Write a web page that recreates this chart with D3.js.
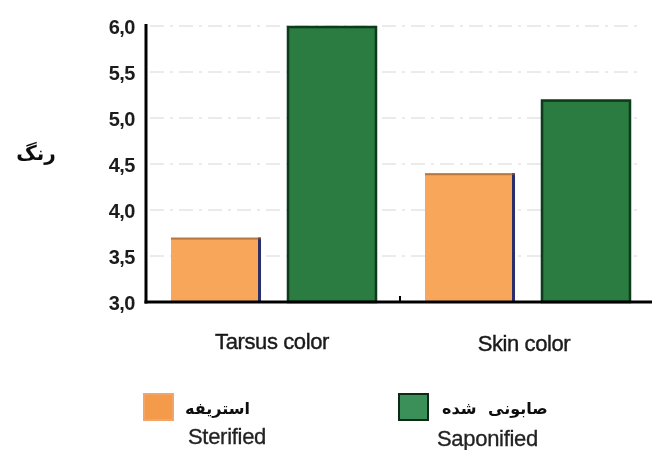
<!DOCTYPE html>
<html>
<head>
<meta charset="utf-8">
<script src="https://cdn.jsdelivr.net/npm/d3@7/dist/d3.min.js"></script>
<style>
  html, body { margin: 0; padding: 0; background: #fff; }
  svg { display: block; }
  .tick-label { font-family: "Liberation Sans", Arial, sans-serif; font-weight: bold; font-size: 20px; fill: #1a1a1a; letter-spacing: -0.5px; }
  .cat-label { font-family: "Liberation Sans", Arial, sans-serif; font-size: 22px; fill: #1a1a1a; stroke: #1a1a1a; stroke-width: 0.4px; letter-spacing: -0.4px; }
  .fa { font-family: "DejaVu Sans", "Noto Sans", sans-serif; font-weight: bold; font-size: 16px; fill: #111; }
  .fa-title { font-family: "DejaVu Sans", "Noto Sans", sans-serif; font-weight: bold; font-size: 20px; fill: #111; }
  .en { font-family: "Liberation Sans", Arial, sans-serif; font-size: 22px; fill: #222; stroke: #222; stroke-width: 0.3px; letter-spacing: -0.3px; }
</style>
</head>
<body>
<svg id="chart" width="652" height="450"></svg>
<script>
// Colour scores of tarsus / skin for two fat treatments
const categories = ["Tarsus color", "Skin color"];
const seriesNames = ["Sterified", "Saponified"];
const seriesNamesFa = ["استریفه", "صابونی شده"];
const sterified = [3.7, 4.4];
const saponified = [6.0, 5.2];
const yTicks = [3.0, 3.5, 4.0, 4.5, 5.0, 5.5, 6.0];
const yLabel = "رنگ";

const fills = ["#F8A65A", "#2B7B3F"];
const edges = ["#2c2f6a", "#0c3b1a"];

const svg = d3.select("#chart");
const defs = svg.append("defs");
defs.append("filter").attr("id", "soft")
  .append("feGaussianBlur").attr("stdDeviation", 0.5);
const g = svg.append("g").attr("filter", "url(#soft)");

const plotLeft = 146, plotRight = 652, plotTop = 26, plotBottom = 302;

const y = d3.scaleLinear().domain([3.0, 6.0]).range([plotBottom, plotTop]);
const x0 = d3.scaleBand().domain(categories).range([plotLeft, plotLeft + 508]).paddingInner(0).paddingOuter(0);
const x1 = d3.scaleBand().domain(seriesNames).range([25, 231]).paddingInner(0.224).paddingOuter(0);

// horizontal dashed grid
g.append("g").selectAll("line").data(yTicks.filter(t => t > 3.0)).join("line")
  .attr("x1", plotLeft + 4).attr("x2", plotRight - 10)
  .attr("y1", d => y(d)).attr("y2", d => y(d))
  .attr("stroke", "#d6d6d6").attr("stroke-width", 1)
  .attr("stroke-dasharray", "14,6,3,6");

// bars
const rows = categories.map((c, i) => ({ cat: c, vals: [sterified[i], saponified[i]] }));
const grp = g.append("g").selectAll("g").data(rows).join("g")
  .attr("transform", d => `translate(${x0(d.cat)},0)`);

grp.selectAll("g.bar").data(d => d.vals.map((v, j) => ({ v, j }))).join("g").attr("class", "bar")
  .each(function(d) {
    const s = d3.select(this);
    const bx = x1(seriesNames[d.j]), bw = x1.bandwidth();
    const by = y(d.v), bh = plotBottom - by;
    s.append("rect").attr("x", bx).attr("y", by).attr("width", bw).attr("height", bh)
      .attr("fill", fills[d.j]);
    if (d.j === 0) {
      // dark shading along the right and top edges
      s.append("rect").attr("x", bx + bw - 3).attr("y", by).attr("width", 3).attr("height", bh)
        .attr("fill", edges[0]);
      s.append("rect").attr("x", bx).attr("y", by).attr("width", bw).attr("height", 2)
        .attr("fill", "#8a5a30").attr("opacity", 0.6);
    } else {
      s.append("rect").attr("x", bx + 1).attr("y", by + 1).attr("width", bw - 2).attr("height", bh - 1)
        .attr("fill", "none").attr("stroke", edges[1]).attr("stroke-width", 2.5);
    }
  });

// axes
const yAxis = d3.axisLeft(y).tickValues(yTicks).tickSize(0).tickPadding(11)
  .tickFormat(d => d3.format(".1f")(d).replace(".", ","));
const ya = g.append("g").attr("transform", `translate(${plotLeft},0)`).call(yAxis);
ya.select(".domain").remove();
ya.selectAll("text").attr("class", "tick-label").attr("dy", "0.36em");

g.append("line").attr("x1", plotLeft).attr("x2", plotLeft).attr("y1", plotTop - 2).attr("y2", plotBottom + 1.5)
  .attr("stroke", "#000").attr("stroke-width", 3);
g.append("line").attr("x1", plotLeft - 1.5).attr("x2", plotRight).attr("y1", plotBottom).attr("y2", plotBottom)
  .attr("stroke", "#000").attr("stroke-width", 3);
// small tick between the two groups
g.append("line").attr("x1", x0("Skin color")).attr("x2", x0("Skin color"))
  .attr("y1", plotBottom - 6).attr("y2", plotBottom).attr("stroke", "#000").attr("stroke-width", 2);

// category labels
g.append("g").selectAll("text").data(categories).join("text")
  .attr("class", "cat-label")
  .attr("x", (d, i) => x0(d) + x1.range()[0] + (x1.range()[1] - x1.range()[0]) / 2 + (i === 0 ? -2 : -4))
  .attr("y", (d, i) => plotBottom + (i === 0 ? 47 : 49))
  .attr("text-anchor", "middle")
  .text(d => d);

// y axis title
g.append("text").attr("class", "fa-title").attr("x", 36).attr("y", 160)
  .attr("text-anchor", "middle").text(yLabel);

// legend
const legendX = [143, 398];
const leg = g.append("g").selectAll("g").data(seriesNames).join("g")
  .attr("transform", (d, i) => `translate(${legendX[i]},393)`);
leg.append("rect").attr("x", 1).attr("y", 1).attr("width", 29).attr("height", 26)
  .attr("fill", (d, i) => i === 0 ? "#F49A4C" : "#3A8F58")
  .attr("stroke", (d, i) => i === 0 ? "#f3a467" : "#0d2a16").attr("stroke-width", 2);
leg.append("text").attr("class", "fa")
  .attr("x", (d, i) => i === 0 ? 42 : 44).attr("y", 21)
  .attr("text-anchor", "start")
  .attr("word-spacing", (d, i) => i === 0 ? 0 : 6)
  .text((d, i) => seriesNamesFa[i]);
leg.append("text").attr("class", "en")
  .attr("x", (d, i) => i === 0 ? 45 : 39).attr("y", (d, i) => i === 0 ? 51 : 53)
  .text(d => d);
</script>
</body>
</html>
